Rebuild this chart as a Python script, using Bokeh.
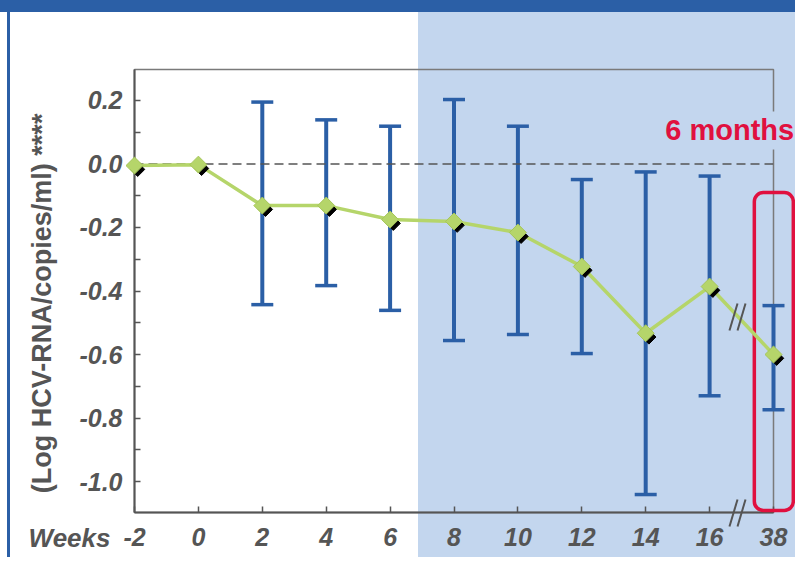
import math
from bokeh.plotting import figure
from bokeh.models import ColumnDataSource, Range1d, FixedTicker, Span
from bokeh.transform import dodge
from bokeh.core.properties import value
from bokeh.embed import file_html
from bokeh.resources import INLINE

# ---------------- data ----------------
weeks = ["-2", "0", "2", "4", "6", "8", "10", "12", "14", "16", "38"]
mean_change = [-0.005, -0.002, -0.131, -0.131, -0.175, -0.181, -0.216, -0.323, -0.533, -0.386, -0.600]

err_weeks = ["2", "4", "6", "8", "10", "12", "14", "16", "38"]
err_upper = [0.195, 0.139, 0.119, 0.203, 0.119, -0.049, -0.025, -0.038, -0.446]
err_lower = [-0.443, -0.383, -0.461, -0.556, -0.537, -0.597, -1.041, -0.730, -0.774]

y_ticks = [-1.0, -0.8, -0.6, -0.4, -0.2, 0.0, 0.2]
y_tick_labels = ["-1.0", "-0.8", "-0.6", "-0.4", "-0.2", "0.0", "0.2"]
y_minor_ticks = [-0.9, -0.7, -0.5, -0.3, -0.1, 0.1]

# ---------------- styles ----------------
BLUE = "#2b5fa6"
LIGHT = "#c3d6ee"
GREEN = "#b5d56a"
RED = "#e0103f"
GRAY = "#555555"
FONT = "Liberation Sans"

pos = list(range(len(weeks)))
src = ColumnDataSource(dict(x=pos, mean=mean_change))
esrc = ColumnDataSource(dict(x=[weeks.index(w) for w in err_weeks], upper=err_upper, lower=err_lower))

p = figure(width=795, height=557, x_range=Range1d(0, 10), y_range=Range1d(-1.0976, 0.2976),
           output_backend="svg", toolbar_location=None,
           min_border_left=134, min_border_right=22, min_border_top=69, min_border_bottom=45)
p.border_fill_color = None
p.background_fill_color = None
p.styles = {"background": "linear-gradient(%s,%s) 0 0/100%% 12px no-repeat, "
                          "linear-gradient(%s,%s) 7px 0/3px 100%% no-repeat, "
                          "linear-gradient(90deg,#ffffff 418px,%s 418px)" % (BLUE, BLUE, BLUE, BLUE, LIGHT)}
p.grid.visible = False
p.outline_line_color = "#7a7a7a"
p.outline_line_width = 1.5

# x axis
p.xaxis.ticker = FixedTicker(ticks=pos)
p.xaxis.major_label_overrides = {i: w for i, w in zip(pos, weeks)}
p.xaxis.axis_line_color = GRAY
p.xaxis.axis_line_width = 2
p.xaxis.major_tick_in = 6
p.xaxis.major_tick_out = 0
p.xaxis.major_tick_line_color = GRAY
p.xaxis.major_tick_line_width = 1.5
p.xaxis.minor_tick_line_color = None
p.xaxis.major_label_standoff = 15

# y axis
p.yaxis.ticker = FixedTicker(ticks=y_ticks, minor_ticks=y_minor_ticks)
p.yaxis.major_label_overrides = {t: l for t, l in zip(y_ticks, y_tick_labels)}
p.yaxis.axis_line_color = GRAY
p.yaxis.axis_line_width = 2
p.yaxis.major_tick_in = 6
p.yaxis.major_tick_out = 0
p.yaxis.minor_tick_in = 6
p.yaxis.minor_tick_out = 0
p.yaxis.major_tick_line_color = GRAY
p.yaxis.minor_tick_line_color = GRAY
p.yaxis.major_tick_line_width = 1.5
p.yaxis.minor_tick_line_width = 1.5
p.yaxis.major_label_standoff = 12

for ax in (p.xaxis, p.yaxis):
    ax.major_label_text_font = FONT
    ax.major_label_text_font_style = "bold italic"
    ax.major_label_text_font_size = "25px"
    ax.major_label_text_color = GRAY

# zero reference line
p.add_layout(Span(location=0, dimension="width", line_color=GRAY, line_width=1.5, line_dash="9 5"))

# error bars
p.segment(x0="x", y0="lower", x1="x", y1="upper", source=esrc, line_color=BLUE, line_width=4, level="annotation")
p.segment(x0=dodge("x", -0.172), y0="upper", x1=dodge("x", 0.172), y1="upper", source=esrc,
          line_color=BLUE, line_width=3.5, level="annotation")
p.segment(x0=dodge("x", -0.172), y0="lower", x1=dodge("x", 0.172), y1="lower", source=esrc,
          line_color=BLUE, line_width=3.5, level="annotation")

# 6 months box (rounded, drawn as an unclipped glyph)
p.quad(left=[9.70], right=[10.31], top=[-0.0898], bottom=[-1.091], fill_color=None,
       line_color=RED, line_width=3.5, border_radius=9, level="overlay")

# mean line & markers
p.line("x", "mean", source=src, line_color=GREEN, line_width=3.5, level="overlay")
p.scatter(x=dodge("x", 0.05), y=dodge("mean", -0.012), source=src, marker="square", angle=math.pi / 4,
          size=10, fill_color="black", line_color="black", level="overlay")
p.scatter("x", "mean", source=src, marker="square", angle=math.pi / 4, size=12,
          fill_color=GREEN, line_color="#a6c65a", line_width=1, level="overlay")

# axis break marks
p.segment(x0=[9.311, 9.437], y0=[-1.1417, -1.1417], x1=[9.437, 9.562], y1=[-1.0567, -1.0567],
          line_color=GRAY, line_width=2, level="overlay")
p.segment(x0=[9.311, 9.437], y0=[-0.5244, -0.5244], x1=[9.437, 9.562], y1=[-0.4394, -0.4394],
          line_color=GRAY, line_width=2, level="overlay")

# texts
p.text(x=[8.26], y=[0.1055], text=["6 months"], text_font=value(FONT), text_font_style="bold",
       text_font_size="29px", text_color=RED, text_baseline="alphabetic", text_align="left",
       background_fill_color=LIGHT, padding=3, level="overlay")
p.text(x=[-0.376], y=[-1.1764], text=["Weeks"], text_font=value(FONT), text_font_style="bold italic",
       text_font_size="26px", text_color=GRAY, text_baseline="alphabetic", text_align="right", level="overlay")
p.text(x=[-1.455], y=[-0.439], text=["(Log HCV-RNA/copies/ml) ****"], angle=math.pi / 2,
       text_font=value(FONT), text_font_style="bold", text_font_size="27px", text_color=GRAY,
       text_baseline="middle", text_align="center", level="overlay")

open("out.html", "w").write(file_html(p, INLINE))
